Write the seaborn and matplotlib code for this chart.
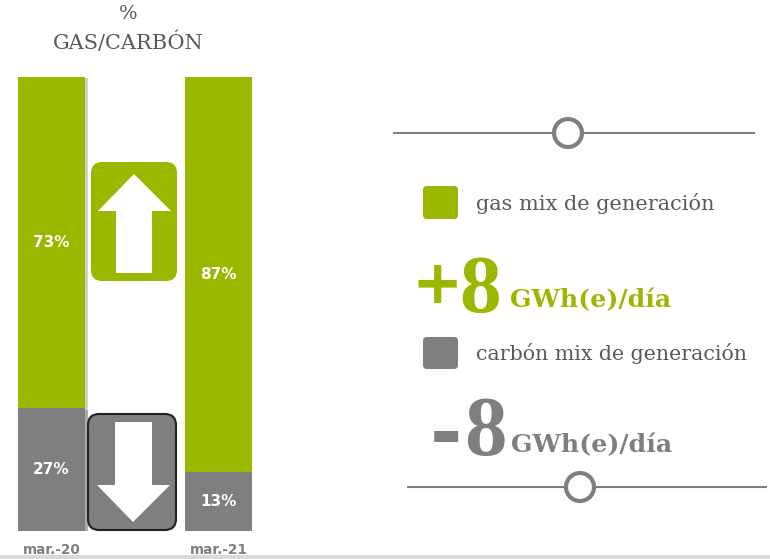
import matplotlib
matplotlib.use("Agg")
import matplotlib.pyplot as plt
import seaborn as sns
import pandas as pd
from matplotlib.patches import FancyBboxPatch, Polygon, Circle, Rectangle
import matplotlib.patheffects as pe

# ---- data ----
periods = ["mar.-20", "mar.-21"]
gas_pct = [73, 87]
coal_pct = [27, 13]
title_lines = ["%", "GAS/CARBÓN"]
legend_labels = ["gas mix de generación", "carbón mix de generación"]
delta_signs = ["+", "-"]
delta_numbers = ["8", "8"]
delta_unit = "GWh(e)/día"

GREEN = "#9BB800"
GRAY = "#7F7F7F"
TXT = "#595959"

sns.set_theme(style="white")
plt.rcParams["font.family"] = ["DejaVu Sans"]

W, H = 770, 559
fig = plt.figure(figsize=(W / 100, H / 100), dpi=100)

df = pd.DataFrame({"period": periods, "gas": gas_pct, "coal": coal_pct})
df["total"] = df["gas"] + df["coal"]

# bar axes (pixel geometry)
ax = fig.add_axes([18 / W, (H - 531) / H, 234 / W, 454 / H])
shadow = [pe.SimplePatchShadow(offset=(2, -1), alpha=0.22), pe.Normal()]
sns.barplot(data=df, x="period", y="total", color=GREEN, width=0.4,
            saturation=1, ax=ax, edgecolor="none")
sns.barplot(data=df, x="period", y="coal", color=GRAY, width=0.4,
            saturation=1, ax=ax, edgecolor="none")
for p in ax.patches:
    p.set_path_effects(shadow)
ax.set_xlim(-0.2, 1.2)
ax.set_ylim(0, 100)
ax.set_xlabel("")
ax.set_ylabel("")
ax.set_yticks([])
for s in ax.spines.values():
    s.set_visible(False)
ax.tick_params(axis="x", length=0, pad=9)
for lab in ax.get_xticklabels():
    lab.set_fontweight("bold")
    lab.set_fontsize(9.8)
    lab.set_color(GRAY)
for i, (g, c) in enumerate(zip(gas_pct, coal_pct)):
    ax.text(i, c + g / 2, f"{g}%", ha="center", va="center", color="white",
            fontsize=11, fontweight="bold")
    ax.text(i, c / 2, f"{c}%", ha="center", va="center", color="white",
            fontsize=11, fontweight="bold")

# overlay axes in pixel coordinates
ov = fig.add_axes([0, 0, 1, 1], zorder=5)
ov.set_xlim(0, W)
ov.set_ylim(H, 0)
ov.axis("off")
ov.patch.set_alpha(0)

# title
ov.text(128, 14, title_lines[0], ha="center", va="center", fontsize=14,
        color=TXT, family="DejaVu Serif")
ov.text(128, 42, title_lines[1], ha="center", va="center", fontsize=15,
        color=TXT, family="DejaVu Serif")

# up arrow box
ov.add_patch(FancyBboxPatch((91, 162), 86, 119, boxstyle="round,pad=0,rounding_size=11",
                            fc=GREEN, ec="none"))
ov.add_patch(Polygon([(134, 174), (171, 211), (152, 211), (152, 273), (116, 273),
                      (116, 211), (98, 211)], closed=True, fc="white", ec="none"))
# down arrow box
ov.add_patch(FancyBboxPatch((88, 414), 88, 116, boxstyle="round,pad=0,rounding_size=11",
                            fc=GRAY, ec="#222222", lw=1.5))
ov.add_patch(Polygon([(115, 422), (152, 422), (152, 485), (170, 485), (133, 522),
                      (97, 485), (115, 485)], closed=True, fc="white", ec="none"))

# separator lines with circles
ov.plot([393, 755], [133, 133], color=GRAY, lw=1.5, solid_capstyle="butt")
ov.add_patch(Circle((568, 133), 14, fc="white", ec=GRAY, lw=3, zorder=6))
ov.plot([407, 767], [487, 487], color=GRAY, lw=1.5, solid_capstyle="butt")
ov.add_patch(Circle((580, 487), 14, fc="white", ec=GRAY, lw=3, zorder=6))

# legend squares + labels
ov.add_patch(FancyBboxPatch((423, 186), 35, 33, boxstyle="round,pad=0,rounding_size=4",
                            fc=GREEN, ec="none"))
ov.text(476, 204, legend_labels[0], ha="left", va="center", fontsize=15,
        color=TXT, family="DejaVu Serif")
ov.add_patch(FancyBboxPatch((423, 337), 35, 32, boxstyle="round,pad=0,rounding_size=4",
                            fc=GRAY, ec="none"))
ov.text(476, 353, legend_labels[1], ha="left", va="center", fontsize=14.8,
        color=TXT, family="DejaVu Serif")

# big delta values
ov.text(437, 280, delta_signs[0], ha="center", va="center_baseline", fontsize=44,
        fontweight="bold", color=GREEN, family="DejaVu Sans")
ov.text(459, 312, delta_numbers[0], ha="left", va="baseline", fontsize=60,
        fontweight="bold", color=GREEN, family="Liberation Serif")
ov.text(510, 307, delta_unit, ha="left", va="baseline", fontsize=18.2,
        fontweight="bold", color=GREEN, family="DejaVu Serif")
ov.text(446, 429, delta_signs[1], ha="center", va="center_baseline", fontsize=56,
        fontweight="bold", color=GRAY, family="DejaVu Sans")
ov.text(464, 455, delta_numbers[1], ha="left", va="baseline", fontsize=61,
        fontweight="bold", color=GRAY, family="Liberation Serif")
ov.text(511, 452, delta_unit, ha="left", va="baseline", fontsize=18.2,
        fontweight="bold", color=GRAY, family="DejaVu Serif")

# bottom light separator
ov.add_patch(Rectangle((0, 555), W, 4, fc="#D9D9D9", ec="none"))

fig.savefig("out.png", dpi=100)
